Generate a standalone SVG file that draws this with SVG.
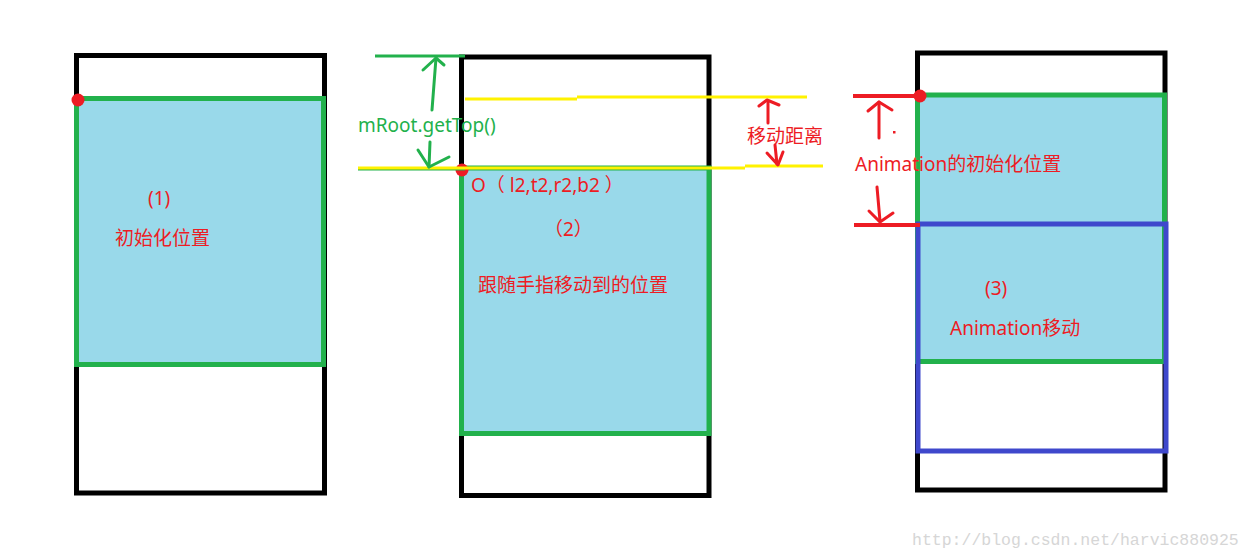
<svg xmlns="http://www.w3.org/2000/svg" width="1253" height="559" viewBox="0 0 1253 559">
<style>
.frame{fill:#fff;stroke:#000;stroke-width:5}
.view{fill:#99D9EA;stroke:#22B14C;stroke-width:5}
.anim{fill:none;stroke:#3F48CC;stroke-width:5}
.dot{fill:#ED1C24}
.t{font-family:"Noto Sans","Noto Sans CJK SC",sans-serif;font-size:19px}
.red{fill:#ED1C24}
.grn{fill:#22B14C}
.ra{fill:none;stroke:#ED1C24;stroke-width:3;stroke-linecap:round;stroke-linejoin:round}
.ga{fill:none;stroke:#22B14C;stroke-width:3;stroke-linecap:round;stroke-linejoin:round}
.yl{stroke:#FFF200;stroke-width:3}
.wm{font-family:"Liberation Mono",monospace;font-size:16.5px;fill:#d6d6d6}
</style>
<rect width="1253" height="559" fill="#fff"/>

<g id="panel1">
<rect class="frame" x="76.5" y="55.5" width="248" height="437.5"/>
<rect class="view" x="76.5" y="98.5" width="247" height="266"/>
<circle class="dot" cx="78" cy="100" r="6.5"/>
<text class="t red" x="148" y="205" font-size="16">(1)</text>
<text class="t red" x="115" y="245">初始化位置</text>
</g>

<g id="panel2">
<rect class="frame" x="461.5" y="57" width="247.5" height="438.5"/>
<rect class="view" x="461.5" y="168" width="247.5" height="265.5"/>
<circle class="dot" cx="462" cy="170" r="6.5"/>
<text class="t red" x="471" y="192" font-size="18">O（ l2,t2,r2,b2 ）</text>
<text class="t red" x="544" y="236">（2）</text>
<text class="t red" x="478" y="292">跟随手指移动到的位置</text>
</g>

<g id="panel3">
<rect class="frame" x="917.5" y="53" width="247.5" height="437"/>
<rect class="view" x="917.5" y="95" width="247" height="266.5"/>
<rect class="anim" x="918" y="224" width="248" height="227"/>
<circle class="dot" cx="920" cy="96" r="6.5"/>
<text class="t red" x="985" y="295" font-size="17">(3)</text>
<text class="t red" x="950" y="335">Animation移动</text>
</g>

<g id="connectors">
<line x1="375" y1="56" x2="465" y2="56" stroke="#22B14C" stroke-width="3"/>
<line x1="358" y1="169" x2="465" y2="169" stroke="#22B14C" stroke-width="3"/>
<line class="yl" x1="358" y1="168" x2="745" y2="168"/>
<line class="yl" x1="745" y1="166" x2="823" y2="166"/>
<line class="yl" x1="465" y1="99" x2="577" y2="99"/>
<line class="yl" x1="577" y1="97" x2="807" y2="97"/>
<polyline class="ga" points="432,110 436,58"/>
<polyline class="ga" points="423,70 436,58 444,65"/>
<polyline class="ga" points="430,142 429,167"/>
<polyline class="ga" points="418,150 429,167 449,157"/>
<text class="t grn" x="358" y="132">mRoot.getTop()</text>
<polyline class="ra" points="768,123 768,101"/>
<polyline class="ra" points="759,106 767,100 779,105"/>
<polyline class="ra" points="775,145 777,164"/>
<polyline class="ra" points="767,153 778,165 783,152"/>
<text class="t red" x="747" y="143">移动距离</text>
<line x1="853" y1="96" x2="920" y2="96" stroke="#ED1C24" stroke-width="4"/>
<line x1="854" y1="225" x2="920" y2="225" stroke="#ED1C24" stroke-width="4"/>
<polyline class="ra" points="879,138 879,102"/>
<polyline class="ra" points="868,111 879,102 892,110"/>
<rect x="893" y="131" width="2.5" height="2.5" fill="#ED1C24"/>
<polyline class="ra" points="877,187 880,221"/>
<polyline class="ra" points="869,211 880,222 893,213"/>
<text class="t red" x="855" y="171">Animation的初始化位置</text>
</g>

<text class="wm" x="912" y="545">http://blog.csdn.net/harvic880925</text>
</svg>
